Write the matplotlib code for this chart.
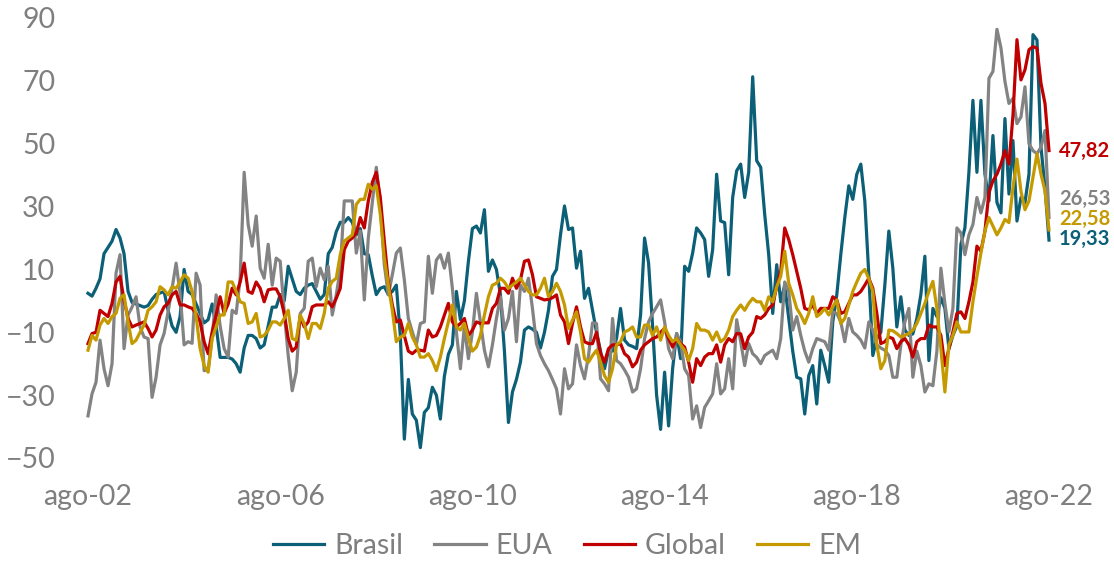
import matplotlib.pyplot as plt
import numpy as np

plt.rcParams['font.family'] = ['Lato', 'DejaVu Sans']

# monthly series, ago-02 .. ago-22
brasil = [
    2.4, 1.5, 4, 7, 15, 17, 19, 22.7, 20, 15, 3, -0.5,
    -1, -1.5, -2, -1.5, 0.5, 2, 2.5, 3, -3, -8, -10, -5,
    10, 3, 2, -1, -4, -7, -6, -1, -8, -18, -18, -18,
    -18.5, -20, -22.7, -15, -11, -11, -12, -15, -14, -8, -2, -2,
    2, 0, 11, 7, 3, 2, 4, 5, 5.5, 3, 0.5, 2,
    15, 17, 22, 25, 25, 26.5, 25, 21, 23, 15, 14.7, 8,
    2, 4, 4.5, 2, 3, 5, -11, -44, -25, -36, -38, -46.7,
    -35.5, -34, -27.5, -30, -37.6, -24, -17, -14, 3, -6, 0, 12.6,
    23, 23.8, 21.6, 29, 9.4, 13, 10, 2, -16, -38.7, -29, -25,
    -19.5, -9.3, -8.3, -9, -10, -15, -10, -3, 7.8, 10, 21, 30.2,
    22.7, 23.2, 10.4, 15.8, 0.8, 4, -3, -10, -16, -21.6, -15.7, -16,
    -12, -2.4, -12.5, -14, -14.5, -15.2, -4.5, 20, 12, -8, -30, -40.9,
    -22.7, -39.8, -21.6, -10.4, -18.4, 11, 9.4, 15.2, 23.2, 21.6, 19.5, 7.8,
    16.3, 40.3, 25.4, 24.9, 8.3, 32.9, 41.4, 43.5, 32.9, 40.9, 71.3, 44.6,
    42.5, 27.5, 14.7, -4, 11.5, -0.3, 5, -5.6, -16, -24.3, -24.8, -36,
    -23.8, -20.6, -32.8, -15.7, -20.6, -25.9, -6.7, 1.9, 14.7, 26.5, 36.6, 32.3,
    40.3, 43.5, 31.8, 8.3, -17.4, -12, -10, 5, 22.2, 10.4, -8.3, 1.3,
    -9.3, -11, -10.5, -5.6, 2, 14.2, -19, -2.4, -5, 1, -2.4, -15.2,
    -11, -8, 18, 23.2, 40.9, 63.8, 40.9, 63.8, 40.3, 31.8, 52.6, 31.3,
    28, 58, 34, 51, 25.4, 32.9, 31.3, 40.3, 84.7, 83, 48.9, 36,
    19.33,
]
eua = [
    -36.6, -29.6, -25.9, -12.5, -21.6, -27, -20, 8.8, 14.7, -15.2, -4.5, -2,
    1.3, -8.3, -11.5, -12, -30.7, -24.3, -14, -10.4, -3.5, 4, 12, 2.4,
    -14, -13, -13.5, 8.8, 5, -22.2, -22, -11.5, 1.9, -8, -15.2, -17.9,
    -3, -4, 7.2, 40.9, 24.3, 17.4, 27, 10.4, 7.2, 18, 5, 13.6,
    12.6, -3.5, -17.4, -28.6, -22.7, -4, -2.4, 12.6, 13.6, 4.5, 10.4, 6.7,
    11, -4.5, 1.9, 10, 31.8, 31.8, 31.8, 15.2, 22.2, 0.3, 20, 31.3,
    42.5, 30.7, 11.5, 1.9, 8.3, 15.2, 16.8, 6.7, -5.6, -9.9, -14, -7.2,
    -6.7, 14.2, 2.4, 13, 14.7, 10.4, 15.2, 4, -9.9, -21.6, -8, -18.4,
    -10, 2.4, -6.7, -15.7, -21, -14, -5.6, 1.3, -9.3, -5.6, 3, -13,
    5, 3, 7.2, -2.4, -13.6, -17.4, -20, -22.2, -25, -28, -36, -21.6,
    -28, -26.4, -14, -20.6, -24.8, -17.4, -7, -7.2, -24.8, -26.4, -28.6, -5.6,
    -19, -20, -22, -24.3, -29, -28, -21.6, -12, -6.7, -4, -1.9, 0.3,
    -6.7, -15.2, -18.4, -10.4, -13, -21.6, -23.8, -37.6, -33.4, -40.3, -33.9, -31.8,
    -29.6, -20, -29.6, -28, -18.4, -28, -6, -13, -20.6, -13.6, -16.8, -18,
    -20, -17.4, -16.5, -15.7, -18.4, -12, 6, 3, -9.3, -5, -11, -16,
    -19.5, -15.2, -12, -12.5, -13, -15.7, -3.5, -4, -6.7, -13, -5.6, -9.9,
    -11, -12.5, -15, -6.7, -9.3, -14, -15, -15.7, -17.4, -24.3, -24.3, -14,
    -6.7, -2.4, -24.3, -16, -20.6, -29, -26.4, -27, -16, 10.4, -0.8, -9.9,
    -2.4, 23.2, 21.6, 14.7, 21, 24.3, 32.9, 28, 32.9, 70.8, 73, 86.4,
    80.5, 69.8, 62.8, 64.4, 56.4, 58.5, 68.1, 50, 47.8, 46.8, 48.9, 54.2,
    26.53,
]
glob = [
    -13.6, -10.4, -10, -3, -4, -5, -0.8, 6, 7.8, 0.3, -5.6, -8.3,
    -7.7, -7.2, -6.7, -8.8, -11.5, -9.3, -4.5, -1.9, -0.8, 1.9, 3, -1.3,
    -1.3, -1.9, -2.4, -4, -6.7, -13, -16.8, -9.9, -4.5, 1.3, -4, -1,
    4, 1.9, 6, 12, 3, 2.4, 6, 4, -0.3, 3.5, 3.8, 3.8,
    1.3, -4, -12, -16, -14.7, -5, -8.3, -6.7, -1.9, -1.3, -1.3, -1.3,
    -0.3, -1.9, 0.8, 4, 16.3, 19, 20, 21.6, 26.5, 23.2, 31.8, 37.7,
    40.9, 32.9, 19, 6, -1.3, -6.7, -6.1, -11, -16, -16.8, -15.7, -15.7,
    -16, -9.3, -11.5, -11, -8.3, -4.5, -0.8, -6.7, -8.3, -7.2, -5.6, -11,
    -9.3, -6.7, -7.2, -7, -7, -2.4, -0.8, 4, 4, 2.4, 7.2, 4,
    6.7, 12.6, 13, 8.3, 1.3, 0.8, 0.3, 0.5, 1, 1.9, -4.5, -6.7,
    -13.6, -7.2, -1.9, -8.3, -13, -13.6, -13.6, -10, -16.8, -19.5, -15.2, -14,
    -14, -13.6, -16.8, -17.9, -21, -19.5, -15.7, -14, -13, -12, -11.5, -10,
    -8.8, -12, -14.7, -12, -13.6, -14.7, -19.5, -25.9, -18.4, -20.6, -17.9, -16.8,
    -16.8, -14, -19.5, -14, -12, -13, -10.4, -10.5, -15.2, -11.5, -10, -5,
    -5.6, -4.5, -2.4, -1.3, 4.5, 9.4, 23.2, 19.5, 14.7, 9.4, 4, -2.4,
    -2.9, -1.3, -4, -2.4, -2.4, -2.4, 1.3, 0.3, -4, -3.5, -0.8, 1.9,
    1.9, 3, 5, 7.2, 4, -4, -13.6, -13, -11.5, -12, -15.2, -13,
    -12, -14, -17.9, -13, -12, -12, -7.7, -8.3, -8.3, -11, -20.6, -15.2,
    -9.9, -4, -3.5, -5.6, -0.3, 6, 17.4, 15.8, 22.2, 34.5, 38.2, 40.3,
    43.5, 47.8, 43.5, 59, 83.1, 70.3, 73.5, 79.9, 80.9, 80.4, 69.2, 62.8,
    47.82,
]
em = [
    -15.7, -11, -12.5, -7.7, -5.6, -7.2, -5, -4, 0.8, 1.9, -6.7, -13.6,
    -12.5, -10, -7.7, -3, -1.9, -0.3, 4.5, 3.5, 1.9, 4.5, 4, 6,
    8.3, 7.2, 3, -5, -15.2, -20.6, -22.7, -12, -8.3, -4.5, -4.5, 6,
    6, 3, -0.3, -0.8, -7.2, -6.7, -4, -11.5, -11, -9.3, -6.7, -6.7,
    -7.7, -5.6, -3, -12, -12.5, -4.5, -7.2, -12, -7.2, -7.2, -8.8, -4,
    4, 6.2, 7.2, 14.7, 19, 20, 21, 30.7, 32.3, 32.3, 37.1, 35.5,
    36.6, 27.5, 13.6, 5, -3, -13, -11.5, -11, -7.2, -11.5, -14, -17.9,
    -17.9, -16.8, -19, -22.2, -17.9, -12, -6.7, -1.3, -8.3, -9.3, -7.2, -12,
    -16, -14.7, -11, -4.5, 1.3, 5, 5.6, 7.2, 6, 4, 5, 6,
    7.2, 5, 3, 1.9, 1.9, 4, 7.2, 1.3, 3, 5.6, 3, -1.3,
    -8.8, -6.1, -3.5, -9.9, -18.4, -19.5, -17.4, -15.7, -19.5, -23.8, -25.9, -21.6,
    -14, -13, -9.9, -9.3, -8.3, -11.5, -11.5, -7.7, -7.7, -11, -8.3, -12.5,
    -8.3, -11, -13, -12, -14, -15.7, -19, -15.2, -7.2, -9.3, -9.3, -9.9,
    -12.5, -9.9, -13, -12, -9.3, -5, -3, -1.3, -3, -0.8, 0.8, -0.3,
    -0.3, -3, 1.3, -0.3, 4.5, 7.8, 15.8, 5.6, 1.9, -2.4, -4.5, -7.2,
    -4, 1.3, -5, -4, -2.4, -4.5, -1.9, 0.3, -7.2, -5.6, -1.3, 3,
    6, 8.8, 10, 7, 3, -14, -21.6, -19, -9.3, -9.5, -10.4, -11.5,
    -11, -10.4, -9.3, -7.2, -4, -0.8, 3, 6.2, -2.4, -15.2, -29, -14,
    -11, -6.7, -9.9, -9.9, -9.9, -0.3, 7.8, 15.2, 22.2, 26.5, 23.8, 21,
    23.2, 25.9, 24.9, 36, 45.1, 34.9, 29, 31.8, 39.3, 46.8, 40.3, 35,
    22.58,
]
tick_labels = ['ago-02', 'ago-06', 'ago-10', 'ago-14', 'ago-18', 'ago-22']
end_labels = ['19,33', '26,53', '47,82', '22,58']

names = ['Brasil', 'EUA', 'Global', 'EM']
colors = ['#0b5f77', '#838383', '#c00000', '#c49a00']
series = [brasil, eua, glob, em]
label_shift = [0.5, 6.0, 0.0, 3.6]

fig = plt.figure(figsize=(11.14, 5.63), dpi=100)
ax = fig.add_axes([65 / 1114, 105 / 563, (1114 - 65) / 1114, 440 / 563])

x = np.arange(len(brasil))
for name, col, vals in zip(names, colors, series):
    ax.plot(x, vals, color=col, lw=2.3, label=name, solid_joinstyle='round')

for txt, col, vals, dy in zip(end_labels, colors, series, label_shift):
    ax.text(x[-1] + 2.5, vals[-1] + dy, txt, color=col, fontsize=14.5,
            fontweight='bold', va='center', ha='left')

ax.set_xlim(-(88 - 65) / 4.004, 240 + (1114 - 1049) / 4.004)
ax.set_ylim(-50, 90)
ax.set_yticks(np.arange(-50, 91, 20))
ax.set_xticks(np.arange(0, 241, 48))
ax.set_xticklabels(tick_labels)
ax.tick_params(length=0, labelsize=20.5, labelcolor='#7f7f7f')
ax.tick_params(axis='x', pad=19)
ax.tick_params(axis='y', pad=7)
for s in ax.spines.values():
    s.set_visible(False)

fig.legend(loc='center', bbox_to_anchor=(0.509, 0.03), ncol=4, frameon=False,
           fontsize=20.5, labelcolor='#7f7f7f', handlelength=1.8,
           handletextpad=0.35, columnspacing=1.1)

fig.savefig('out.png', dpi=100)
